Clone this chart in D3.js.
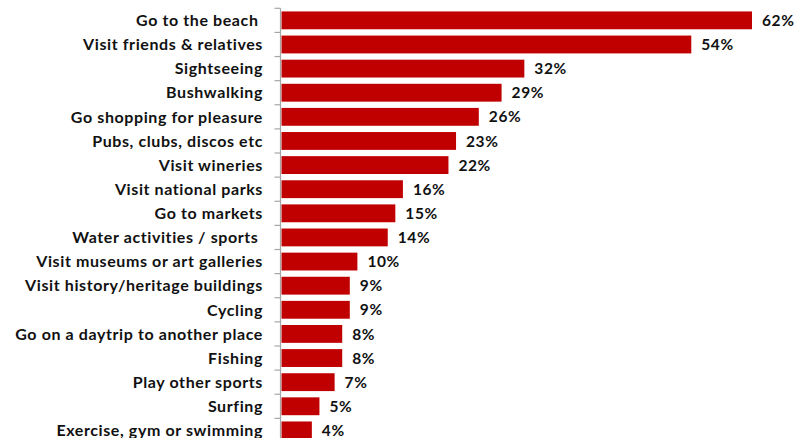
<!DOCTYPE html>
<html>
<head>
<meta charset="utf-8">
<script src="https://cdn.jsdelivr.net/npm/d3@7"></script>
<style>
  html, body { margin: 0; padding: 0; background: #fff; }
  svg { display: block; }
  text { font-family: Lato, "Open Sans", sans-serif; font-weight: 700; fill: #111; letter-spacing: 0.6px; }
</style>
</head>
<body>
<svg id="chart" width="801" height="438"></svg>
<script>
const categories = [
  "Go to the beach ",
  "Visit friends & relatives",
  "Sightseeing",
  "Bushwalking",
  "Go shopping for pleasure",
  "Pubs, clubs, discos etc",
  "Visit wineries",
  "Visit national parks",
  "Go to markets",
  "Water activities / sports ",
  "Visit museums or art galleries",
  "Visit history/heritage buildings",
  "Cycling",
  "Go on a daytrip to another place",
  "Fishing",
  "Play other sports",
  "Surfing",
  "Exercise, gym or swimming"
];
const values = [62, 54, 32, 29, 26, 23, 22, 16, 15, 14, 10, 9, 9, 8, 8, 7, 5, 4];

const svg = d3.select("#chart");
const axisX = 280.5;
const plotTop = 8.3, step = 24.12;

const x = d3.scaleLinear().domain([0, 62]).range([281.5, 752]);
const y = d3.scaleBand()
  .domain(categories)
  .range([plotTop, plotTop + step * categories.length])
  .paddingInner(0.26)
  .paddingOuter(0.13);

// bars
svg.append("g").selectAll("rect")
  .data(values)
  .join("rect")
  .attr("x", x(0))
  .attr("y", (d, i) => y(categories[i]))
  .attr("width", d => x(d) - x(0))
  .attr("height", y.bandwidth())
  .attr("fill", "#C00000");

// axis line + ticks at band boundaries
const ax = svg.append("g").attr("stroke", "#a6a6a6").attr("stroke-width", 1.2);
ax.append("line")
  .attr("x1", axisX).attr("x2", axisX)
  .attr("y1", plotTop).attr("y2", plotTop + step * categories.length);
const boundaries = d3.range(categories.length + 1).map(i => plotTop + i * step);
ax.selectAll("line.tick")
  .data(boundaries)
  .join("line")
  .attr("class", "tick")
  .attr("x1", axisX - 6).attr("x2", axisX)
  .attr("y1", d => d).attr("y2", d => d);

// category labels
svg.append("g").selectAll("text")
  .data(categories)
  .join("text")
  .attr("x", 263)
  .attr("y", d => y(d) + y.bandwidth() / 2)
  .attr("dy", "0.36em")
  .attr("text-anchor", "end")
  .attr("font-size", 16)
  .style("white-space", "pre")
  .text(d => d);

// value labels
svg.append("g").selectAll("text")
  .data(values)
  .join("text")
  .attr("x", d => x(d) + 10)
  .attr("y", (d, i) => y(categories[i]) + y.bandwidth() / 2)
  .attr("dy", "0.36em")
  .attr("font-size", 15.5)
  .text(d => d + "%");
</script>
</body>
</html>
